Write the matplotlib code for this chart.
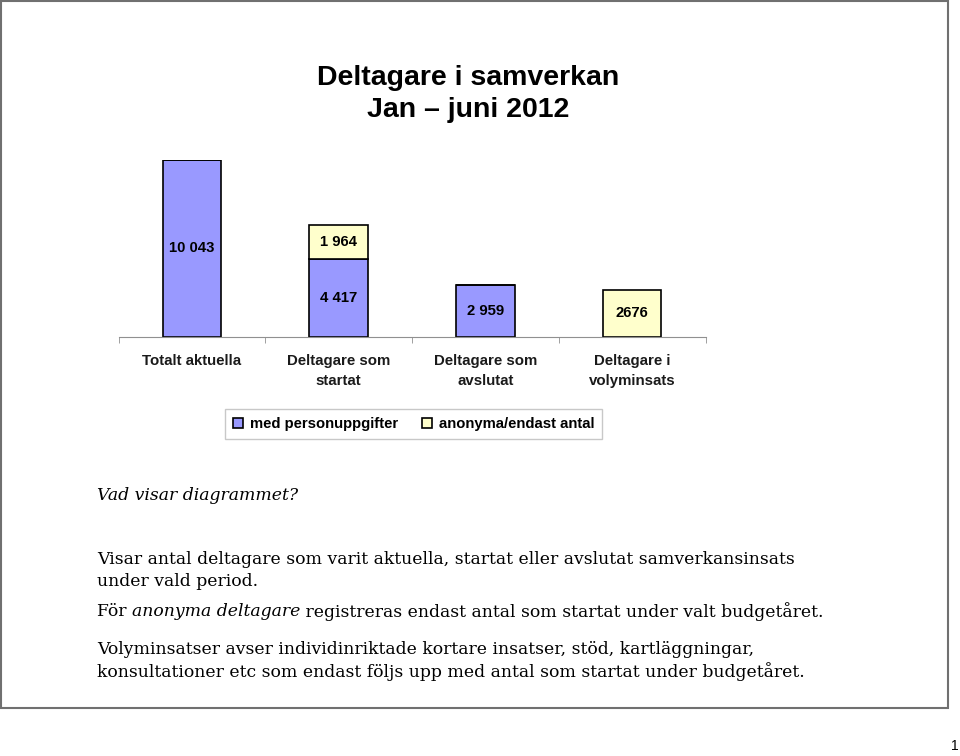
import matplotlib.pyplot as plt
from matplotlib.patches import Rectangle, Patch

# Data
categories = ["Totalt aktuella", "Deltagare som\nstartat", "Deltagare som\navslutat", "Deltagare i\nvolyminsats"]
med_personuppgifter = [10043, 4417, 2959, 0]
anonyma = [0, 1964, 0, 2676]
med_labels = ["10 043", "4 417", "2 959", ""]
anonyma_labels = ["", "1 964", "", "2676"]
series_names = ["med personuppgifter", "anonyma/endast antal"]

W, H = 960, 756
BLUE = '#9999ff'
YELLOW = '#ffffcc'

fig = plt.figure(figsize=(W / 100, H / 100), dpi=100)

def fx(px):
    return px / W

def fy(py):
    return 1 - py / H

# page border
fig.patches.append(Rectangle((fx(1), fy(708)), fx(947), 707 / H, transform=fig.transFigure,
                             fill=False, edgecolor='#707070', linewidth=1.5))
fig.text(fx(955), fy(746), "1", fontsize=10, ha='center', va='center', family='Liberation Sans')

# title
title_font = ['Liberation Sans Narrow', 'Liberation Sans']
fig.text(fx(468), fy(78), "Deltagare i samverkan", fontsize=20.5, fontweight='bold',
         ha='center', va='center', family=title_font)
fig.text(fx(468), fy(110), "Jan \u2013 juni 2012", fontsize=20.5, fontweight='bold',
         ha='center', va='center', family=title_font)

# bar chart
ax = fig.add_axes([fx(118.5), fy(337), 587 / W, 177 / H])
x = range(len(categories))
ax.bar(x, med_personuppgifter, width=0.4, color=BLUE, edgecolor='black', linewidth=1.2,
       label=series_names[0])
ax.bar(x, anonyma, width=0.4, bottom=med_personuppgifter, color=YELLOW, edgecolor='black',
       linewidth=1.2, label=series_names[1])

for i in x:
    if med_labels[i]:
        ax.text(i, med_personuppgifter[i] / 2, med_labels[i], ha='center', va='center',
                fontsize=10.7, fontweight='bold', family='Liberation Sans')
    if anonyma_labels[i]:
        ax.text(i, med_personuppgifter[i] + anonyma[i] / 2, anonyma_labels[i], ha='center',
                va='center', fontsize=10.7, fontweight='bold', family='Liberation Sans')

ax.set_xlim(-0.5, len(categories) - 0.5)
ax.set_ylim(0, 10043)
for s in ['top', 'right', 'left']:
    ax.spines[s].set_visible(False)
ax.spines['bottom'].set_color('#909090')
ax.set_yticks([])
ax.set_xticks(list(x))
ax.set_xticklabels(categories, fontsize=10.8, fontweight='bold', family='Liberation Sans',
                   color='#1a1a1a', linespacing=1.6)
ax.tick_params(axis='x', which='major', length=0, pad=12)
ax.set_xticks([i - 0.5 for i in range(len(categories) + 1)], minor=True)
ax.tick_params(axis='x', which='minor', length=4, color='#909090', direction='out')

# legend
handles = [Patch(facecolor=BLUE, edgecolor='black', linewidth=1.2),
           Patch(facecolor=YELLOW, edgecolor='black', linewidth=1.2)]
leg = fig.legend(handles, series_names, loc='center', bbox_to_anchor=(fx(413.5), fy(424)),
                 ncol=2, fancybox=False, edgecolor='#c8c8c8', framealpha=1,
                 prop={'family': 'Liberation Sans', 'weight': 'bold', 'size': 10.7},
                 handlelength=0.7, handleheight=0.7, handletextpad=0.45,
                 columnspacing=1.6, borderpad=0.55)
leg.get_frame().set_linewidth(1.0)

# explanation text
serif = 'DejaVu Serif'
fs = 12.45
fig.text(fx(97), fy(495), "Vad visar diagrammet?", fontsize=fs, style='italic', family=serif,
         va='center')
fig.text(fx(97), fy(560), "Visar antal deltagare som varit aktuella, startat eller avslutat samverkansinsats",
         fontsize=fs, family=serif, va='center')
fig.text(fx(97), fy(582), "under vald period.", fontsize=fs, family=serif, va='center')

renderer = fig.canvas.get_renderer()
parts = [("F\u00f6r ", 'normal'), ("anonyma deltagare", 'italic'),
         (" registreras endast antal som startat under valt budget\u00e5ret.", 'normal')]
xpos = 97
for txt, st in parts:
    t = fig.text(fx(xpos), fy(612), txt, fontsize=fs, style=st, family=serif, va='center')
    bb = t.get_window_extent(renderer=renderer)
    xpos += bb.width

fig.text(fx(97), fy(649), "Volyminsatser avser individinriktade kortare insatser, st\u00f6d, kartl\u00e4ggningar,",
         fontsize=fs, family=serif, va='center')
fig.text(fx(97), fy(672), "konsultationer etc som endast f\u00f6ljs upp med antal som startat under budget\u00e5ret.",
         fontsize=fs, family=serif, va='center')

fig.savefig('out.png', dpi=100)
